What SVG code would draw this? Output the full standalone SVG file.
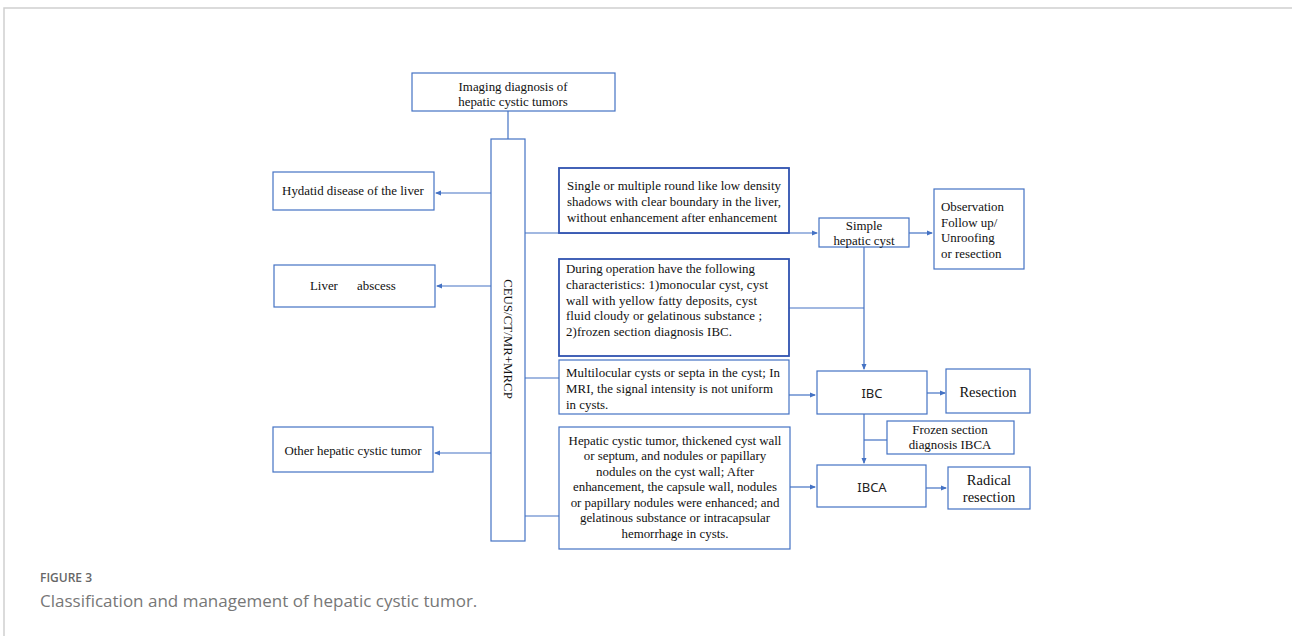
<svg xmlns="http://www.w3.org/2000/svg" width="1292" height="636" viewBox="0 0 1292 636">
<style>
.frame{stroke:#d0d0d0;stroke-width:1.5;fill:none}
.box{fill:#fff;stroke:#4472C4;stroke-width:1.2}
.dbox{fill:#fff;stroke:#2F52B0;stroke-width:1.8}
.t{font-family:"Liberation Serif","Times New Roman",serif;font-size:12.9px;fill:#111}
.c{text-anchor:middle}
.s{font-family:"Noto Sans","Liberation Sans",Arial,sans-serif;font-size:13px;fill:#222;text-anchor:middle}
.ln{stroke:#4472C4;stroke-width:1.2;fill:none}
.cap1{font-family:"Open Sans","Noto Sans",sans-serif;font-size:12px;fill:#666;font-weight:600}
.cap2{font-family:"Open Sans","Noto Sans",sans-serif;font-size:17px;fill:#777}
</style>
<defs>
<marker id="ah" markerWidth="6" markerHeight="6" refX="5" refY="3" orient="auto" markerUnits="userSpaceOnUse">
<path d="M0,0.5 L6,3 L0,5.5 z" fill="#4472C4"/>
</marker>
</defs>
<rect width="1292" height="636" fill="#fff"/>
<path class="frame" d="M4,636 V8 H1292"/>

<g id="connectors">
<path class="ln" d="M508,111 V139"/>
<path class="ln" d="M491,193 H436" marker-end="url(#ah)"/>
<path class="ln" d="M491,286 H437" marker-end="url(#ah)"/>
<path class="ln" d="M491,453 H435" marker-end="url(#ah)"/>
<path class="ln" d="M525,233 H817" marker-end="url(#ah)"/>
<path class="ln" d="M525,378 H559"/>
<path class="ln" d="M525,516 H559"/>
<path class="ln" d="M909,233 H932" marker-end="url(#ah)"/>
<path class="ln" d="M864,247 V369" marker-end="url(#ah)"/>
<path class="ln" d="M789,308 H864"/>
<path class="ln" d="M789,395 H815" marker-end="url(#ah)"/>
<path class="ln" d="M927,393 H945" marker-end="url(#ah)"/>
<path class="ln" d="M864,414 V463" marker-end="url(#ah)"/>
<path class="ln" d="M887,440 H864"/>
<path class="ln" d="M790,487 H815" marker-end="url(#ah)"/>
<path class="ln" d="M926,488 H946" marker-end="url(#ah)"/>
</g>

<g id="title">
<rect class="box" x="412" y="73" width="203" height="38"/>
<text class="t c" x="513" y="91">Imaging  diagnosis of</text>
<text class="t c" x="513" y="106">hepatic cystic tumors</text>
</g>

<g id="imaging">
<rect class="box" x="491" y="139" width="34" height="402"/>
<text class="t c" transform="translate(504,339) rotate(90)">CEUS/CT/MR+MRCP</text>
</g>

<g id="hydatid">
<rect class="box" x="273" y="172" width="161" height="38"/>
<text class="t c" x="353" y="195">Hydatid disease of the liver</text>
</g>

<g id="abscess">
<rect class="box" x="274" y="265" width="161" height="42"/>
<text class="t" x="310" y="290">Liver</text>
<text class="t" x="357" y="290">abscess</text>
</g>

<g id="other">
<rect class="box" x="273" y="427" width="160" height="45"/>
<text class="t c" x="353" y="455">Other hepatic cystic tumor</text>
</g>

<g id="crit-simple">
<rect class="dbox" x="559" y="168" width="230" height="65"/>
<text class="t" x="567" y="190" textLength="214" lengthAdjust="spacing">Single  or multiple  round like  low  density</text>
<text class="t" x="567" y="206" textLength="214" lengthAdjust="spacing">shadows with  clear boundary in the liver,</text>
<text class="t" x="567" y="222" textLength="210" lengthAdjust="spacing">without  enhancement  after enhancement</text>
</g>

<g id="crit-operation">
<rect class="dbox" x="559" y="259" width="230" height="97"/>
<text class="t" x="566" y="273" textLength="189" lengthAdjust="spacing">During  operation  have  the  following</text>
<text class="t" x="566" y="289" textLength="202" lengthAdjust="spacing">characteristics:  1)monocular cyst, cyst</text>
<text class="t" x="566" y="305" textLength="191" lengthAdjust="spacing">wall  with  yellow  fatty deposits, cyst</text>
<text class="t" x="566" y="320" textLength="196" lengthAdjust="spacing">fluid  cloudy or gelatinous  substance ;</text>
<text class="t" x="566" y="336" textLength="166" lengthAdjust="spacing">2)frozen  section  diagnosis  IBC.</text>
</g>

<g id="crit-multilocular">
<rect class="box" x="559" y="360" width="230" height="54"/>
<text class="t" x="566" y="377" textLength="214" lengthAdjust="spacing">Multilocular  cysts or septa in  the cyst; In</text>
<text class="t" x="566" y="393" textLength="207" lengthAdjust="spacing">MRI,  the  signal  intensity  is  not uniform</text>
<text class="t" x="566" y="409">in  cysts.</text>
</g>

<g id="crit-tumor">
<rect class="box" x="559" y="427" width="231" height="122"/>
<text class="t c" x="675" y="445">Hepatic  cystic  tumor,  thickened  cyst wall</text>
<text class="t c" x="675" y="460">or septum, and nodules or papillary</text>
<text class="t c" x="675" y="476">nodules on the cyst wall;  After</text>
<text class="t c" x="675" y="491">enhancement,  the  capsule wall,  nodules</text>
<text class="t c" x="675" y="507">or papillary  nodules were enhanced; and</text>
<text class="t c" x="675" y="522">gelatinous  substance or intracapsular</text>
<text class="t c" x="675" y="538">hemorrhage  in  cysts.</text>
</g>

<g id="simple-cyst">
<rect class="box" x="819" y="218" width="90" height="29"/>
<text class="t c" x="864" y="230">Simple</text>
<text class="t c" x="864" y="245">hepatic cyst</text>
</g>

<g id="observation">
<rect class="box" x="934" y="189" width="90" height="80"/>
<text class="t" x="941" y="211">Observation</text>
<text class="t" x="941" y="227">Follow up/</text>
<text class="t" x="941" y="242">Unroofing</text>
<text class="t" x="941" y="258">or resection</text>
</g>

<g id="ibc">
<rect class="box" x="817" y="371" width="110" height="43"/>
<text class="s" x="872" y="398">IBC</text>
</g>

<g id="resection">
<rect class="box" x="946" y="369" width="84" height="44"/>
<text class="t c" x="988" y="397" style="font-size:14.5px">Resection</text>
</g>

<g id="frozen">
<rect class="box" x="887" y="421" width="127" height="33"/>
<text class="t c" x="950" y="434">Frozen section</text>
<text class="t c" x="950" y="449">diagnosis IBCA</text>
</g>

<g id="ibca">
<rect class="box" x="817" y="465" width="109" height="42"/>
<text class="s" x="872" y="492">IBCA</text>
</g>

<g id="radical">
<rect class="box" x="948" y="467" width="82" height="42"/>
<text class="t c" x="989" y="485" style="font-size:14.5px">Radical</text>
<text class="t c" x="989" y="502" style="font-size:14.5px">resection</text>
</g>

<g id="caption">
<text class="cap1" x="40" y="582">FIGURE 3</text>
<text class="cap2" x="40" y="607">Classification and management of hepatic cystic tumor.</text>
</g>
</svg>
